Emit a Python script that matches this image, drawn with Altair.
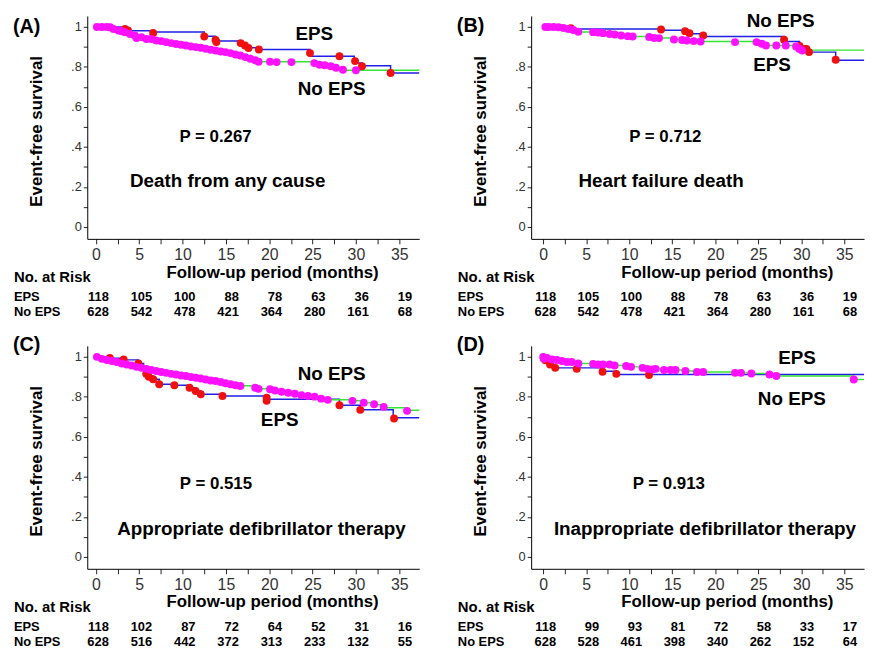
import altair as alt
import pandas as pd

FONT = "Liberation Sans"
NARROW = "Liberation Sans Narrow, Liberation Sans"
BLUE = "#1f1fe6"
GREEN = "#33e633"
RED = "#f01010"
MAGENTA = "#ff10ff"

TICKS = [0, 5, 10, 15, 20, 25, 30, 35]

# ---------------- Panel A: Death from any cause ----------------
A_eps_t = [0, 3.4, 6.6, 12.5, 13.8, 16.6, 17.2, 17.6, 18.8, 24.7, 29.8, 30.7, 34.0, 37.3]
A_eps_s = [1.0, 0.981, 0.975, 0.953, 0.930, 0.918, 0.907, 0.896, 0.887, 0.853, 0.819, 0.806, 0.770, 0.770]
A_no_t = [0, 1.6, 2.6, 3.4, 4.5, 5.3, 6.4, 7.5, 8.7, 9.8, 11.0, 12.1, 13.2, 14.4, 15.5, 16.7, 17.8, 18.8, 25.2, 26.4, 27.7, 28.5, 37.3]
A_no_s = [1.0, 0.995, 0.982, 0.974, 0.957, 0.947, 0.940, 0.929, 0.919, 0.911, 0.902, 0.896, 0.886, 0.877, 0.869, 0.857, 0.841, 0.826, 0.817, 0.806, 0.796, 0.783, 0.783]
A_eps_pt_t = [3.35, 3.7, 6.6, 12.5, 13.8, 13.9, 16.7, 17.2, 17.6, 18.8, 24.7, 28.1, 29.9, 30.7, 34.0]
A_eps_pt_s = [0.990, 0.982, 0.970, 0.952, 0.935, 0.925, 0.919, 0.907, 0.895, 0.887, 0.869, 0.853, 0.829, 0.803, 0.770]
A_no_pt_t = [0.11, 0.68, 1.26, 1.64, 2.02, 2.59, 2.97, 3.35, 3.92, 4.49, 4.68, 5.25, 5.82, 6.39, 6.96, 7.53, 8.10,
             8.68, 9.25, 9.82, 10.39, 10.96, 11.53, 12.10, 12.67, 13.24, 13.81, 14.38, 14.95, 15.53, 16.10, 16.67,
             17.24, 17.81, 18.38, 18.76, 20.09, 20.85, 22.56, 25.2, 25.8, 26.4, 27.1, 27.7, 28.5, 30.0]
A_no_pt_s = [1.0, 1.0, 1.0, 0.998, 0.990, 0.982, 0.979, 0.974, 0.965, 0.957, 0.945, 0.949, 0.940, 0.940, 0.932, 0.929,
             0.924, 0.919, 0.915, 0.911, 0.907, 0.902, 0.899, 0.896, 0.891, 0.886, 0.882, 0.877, 0.874, 0.869, 0.862,
             0.857, 0.849, 0.841, 0.833, 0.826, 0.826, 0.824, 0.824, 0.819, 0.811, 0.808, 0.803, 0.796, 0.786, 0.783]
A_risk_eps = [118, 105, 100, 88, 78, 63, 36, 19]
A_risk_no = [628, 542, 478, 421, 364, 280, 161, 68]

# ---------------- Panel B: Heart failure death ----------------
B_eps_t = [0, 3.3, 13.6, 16.5, 17.0, 18.6, 28.0, 29.8, 30.5, 30.9, 34.0, 37.3]
B_eps_s = [1.0, 0.990, 0.983, 0.974, 0.966, 0.952, 0.927, 0.905, 0.890, 0.874, 0.833, 0.833]
B_no_t = [0, 1.5, 2.9, 3.5, 4.1, 6.4, 7.7, 9.1, 10.4, 12.9, 15.2, 16.7, 18.3, 24.8, 25.4, 25.9, 29.4, 29.8, 30.1, 37.3]
B_no_s = [1.0, 0.998, 0.990, 0.985, 0.975, 0.972, 0.965, 0.957, 0.952, 0.945, 0.937, 0.932, 0.927, 0.924, 0.916, 0.907, 0.902, 0.891, 0.884, 0.884]
B_eps_pt_t = [3.2, 13.7, 16.5, 17.0, 18.6, 28.0, 29.8, 30.6, 30.9, 34.0]
B_eps_pt_s = [0.993, 0.987, 0.979, 0.969, 0.957, 0.936, 0.905, 0.890, 0.874, 0.836]
B_no_pt_t = [0.25, 0.63, 1.21, 1.78, 2.36, 2.93, 3.5, 4.08, 5.80, 6.38, 6.95, 7.72, 8.3, 9.06, 9.83, 10.4, 12.32,
             12.9, 13.47, 15.2, 16.15, 16.7, 17.5, 18.3, 22.3, 24.8, 25.4, 25.9, 27.1, 28.2, 29.4, 29.75, 30.1]
B_no_pt_s = [1.0, 1.0, 1.0, 0.998, 0.995, 0.990, 0.985, 0.976, 0.974, 0.972, 0.969, 0.965, 0.962, 0.957, 0.954, 0.952,
             0.950, 0.945, 0.944, 0.937, 0.935, 0.932, 0.929, 0.927, 0.924, 0.924, 0.916, 0.907, 0.907, 0.907, 0.902,
             0.891, 0.882]
B_risk_eps = [118, 105, 100, 88, 78, 63, 36, 19]
B_risk_no = [628, 542, 478, 421, 364, 280, 161, 68]

# ---------------- Panel C: Appropriate defibrillator therapy ----------------
C_eps_t = [0, 1.6, 3.2, 4.9, 5.5, 6.0, 6.6, 7.3, 9.0, 10.8, 11.5, 12.1, 14.6, 19.7, 28.1, 30.5, 34.3, 37.3]
C_eps_s = [1.0, 0.993, 0.985, 0.967, 0.930, 0.904, 0.888, 0.863, 0.858, 0.846, 0.829, 0.813, 0.804, 0.788, 0.758, 0.735, 0.695, 0.695]
C_no_t = [0, 0.7, 1.8, 3.0, 4.1, 5.3, 6.4, 7.5, 8.7, 9.8, 11.0, 12.1, 13.2, 14.4, 15.5, 16.7, 18.4, 18.8, 20.7, 21.4,
          22.2, 23.0, 23.7, 25.2, 26.0, 26.8, 29.6, 30.9, 32.1, 33.2, 35.9, 37.3]
C_no_s = [1.0, 0.993, 0.982, 0.970, 0.957, 0.947, 0.936, 0.926, 0.916, 0.908, 0.900, 0.893, 0.884, 0.876, 0.866, 0.856,
          0.848, 0.840, 0.834, 0.827, 0.822, 0.816, 0.808, 0.802, 0.792, 0.785, 0.780, 0.770, 0.760, 0.745, 0.733, 0.733]
C_eps_pt_t = [1.6, 3.2, 4.9, 5.8, 6.1, 6.6, 7.3, 9.05, 10.8, 11.5, 12.1, 14.6, 19.7, 19.7, 28.1, 30.5, 34.4]
C_eps_pt_s = [0.995, 0.987, 0.967, 0.915, 0.900, 0.888, 0.863, 0.858, 0.846, 0.829, 0.813, 0.804, 0.796, 0.780, 0.758, 0.735, 0.692]
C_no_pt_t = [0.11, 0.68, 1.26, 1.83, 2.40, 2.97, 3.54, 4.11, 4.68, 5.25, 5.82, 6.39, 6.96, 7.53, 8.10, 8.68, 9.25,
             9.82, 10.39, 10.96, 11.53, 12.10, 12.67, 13.24, 13.81, 14.38, 14.95, 15.53, 16.10, 16.67, 18.38, 18.76,
             20.09, 20.66, 21.42, 22.18, 22.95, 23.71, 24.47, 25.23, 25.99, 26.75, 29.6, 30.9, 32.1, 33.2, 35.9]
C_no_pt_s = [1.0, 0.990, 0.984, 0.979, 0.974, 0.967, 0.962, 0.957, 0.950, 0.945, 0.940, 0.934, 0.929, 0.924, 0.920,
             0.915, 0.912, 0.907, 0.904, 0.899, 0.896, 0.892, 0.887, 0.882, 0.879, 0.874, 0.868, 0.863, 0.858, 0.854,
             0.846, 0.840, 0.838, 0.832, 0.826, 0.821, 0.816, 0.808, 0.804, 0.801, 0.791, 0.785, 0.780, 0.771, 0.763,
             0.750, 0.730]
C_risk_eps = [118, 102, 87, 72, 64, 52, 31, 16]
C_risk_no = [628, 516, 442, 372, 313, 233, 132, 55]

# ---------------- Panel D: Inappropriate defibrillator therapy ----------------
D_eps_t = [0, 0.25, 0.8, 1.4, 6.9, 8.5, 37.3]
D_eps_s = [1.0, 0.979, 0.962, 0.945, 0.928, 0.912, 0.912]
D_no_t = [0, 0.5, 1.0, 2.2, 2.7, 4.1, 6.4, 8.3, 9.6, 10.2, 11.6, 12.1, 14.0, 16.5, 17.9, 22.3, 24.2, 26.3, 27.1, 36.1, 37.3]
D_no_s = [1.0, 0.993, 0.987, 0.979, 0.974, 0.967, 0.962, 0.957, 0.954, 0.950, 0.945, 0.940, 0.934, 0.929, 0.924,
          0.920, 0.917, 0.912, 0.904, 0.887, 0.887]
D_eps_pt_t = [0.25, 0.8, 1.4, 3.9, 6.9, 8.5, 12.3]
D_eps_pt_s = [0.983, 0.962, 0.945, 0.940, 0.926, 0.915, 0.909]
D_no_pt_t = [0.0, 0.06, 0.44, 1.02, 1.59, 2.16, 2.74, 3.31, 4.08, 5.80, 6.38, 6.95, 7.72, 8.30, 9.64, 10.21, 11.55,
             12.13, 12.7, 13.08, 14.04, 14.8, 15.38, 16.53, 17.87, 18.6, 22.3, 23.0, 24.2, 26.3, 27.1, 36.1]
D_no_pt_s = [1.0, 0.990, 0.995, 0.987, 0.984, 0.979, 0.974, 0.974, 0.967, 0.965, 0.962, 0.962, 0.962, 0.957, 0.954,
             0.950, 0.945, 0.940, 0.937, 0.940, 0.934, 0.934, 0.934, 0.929, 0.924, 0.924, 0.920, 0.920, 0.917, 0.912,
             0.904, 0.887]
D_risk_eps = [118, 99, 93, 81, 72, 58, 33, 17]
D_risk_no = [628, 528, 461, 398, 340, 262, 152, 64]


def panel(letter, letter_y, xmin, width, title_x,
          eps_t, eps_s, no_t, no_s, ept, eps_pts, npt, nps,
          risk_eps, risk_no, notes):
    H = 225
    xs = alt.Scale(domain=[xmin, 37.3], nice=False, zero=False)
    ys = alt.Scale(domain=[-0.06, 1.055], nice=False, zero=False)
    xaxis = alt.Axis(
        values=[i * 2.5 for i in range(15)],
        labelExpr="datum.value % 5 == 0 ? datum.label : ''",
        title=None, grid=False, domainColor="#000", domainWidth=1,
        tickColor="#222", tickSize=5, tickWidth=1,
        labelFont=NARROW, labelFontSize=16, labelColor="#333",
        labelPadding=3, labelFlush=False, labelOverlap=False)
    yaxis = alt.Axis(
        values=[round(i * 0.1, 1) for i in range(11)],
        labelExpr="round(datum.value*10) % 2 == 0 ? (datum.value == 0 ? '0' : (datum.value > 0.99 ? '1' : replace(format(datum.value, '.1f'), '0.', '.'))) : ''",
        title="Event-free survival", titleFont=FONT, titleFontSize=17,
        titleFontWeight="bold", titleColor="#000", titleX=-51, titleY=116,
        titleAngle=270, titleAlign="center", titleBaseline="middle",
        grid=False, domainColor="#000", domainWidth=1, tickColor="#222",
        tickSize=4, tickWidth=1, labelFont=NARROW, labelFontSize=13,
        labelColor="#333", labelPadding=2, labelOverlap=False, labelFlush=False)

    def X(f):
        return alt.X(f, type="quantitative", scale=xs, axis=xaxis)

    def Y(f):
        return alt.Y(f, type="quantitative", scale=ys, axis=yaxis)

    eps_line = alt.Chart(pd.DataFrame({"t": eps_t, "s": eps_s})).mark_line(
        interpolate="step-after", color=BLUE, strokeWidth=1.5).encode(x=X("t"), y=Y("s"))
    no_line = alt.Chart(pd.DataFrame({"t": no_t, "s": no_s})).mark_line(
        interpolate="step-after", color=GREEN, strokeWidth=1.5).encode(x=X("t"), y=Y("s"))
    eps_pts = alt.Chart(pd.DataFrame({"t": ept, "s": eps_pts})).mark_circle(
        color=RED, size=64, opacity=1).encode(x=X("t"), y=Y("s"))
    no_pts = alt.Chart(pd.DataFrame({"t": npt, "s": nps})).mark_circle(
        color=MAGENTA, size=64, opacity=1).encode(x=X("t"), y=Y("s"))

    note_layers = []
    for txt, nx, ny, fs in notes:
        note_layers.append(
            alt.Chart(pd.DataFrame({"t": [nx], "s": [ny], "lab": [txt]})).mark_text(
                font=FONT, fontSize=fs, fontWeight="bold", color="#000",
                align="center", baseline="middle").encode(x=X("t"), y=Y("s"), text="lab:N"))

    risk_layers = []
    for counts, ypix in ((risk_eps, 284), (risk_no, 298.5)):
        risk_layers.append(
            alt.Chart(pd.DataFrame({"t": TICKS, "n": [str(c) for c in counts]})).mark_text(
                font=FONT, fontSize=13, fontWeight="bold", color="#000",
                align="right", baseline="middle", dx=13).encode(
                x=X("t"), y=alt.value(ypix), text="n:N"))

    def label(txt, xp, yp, fs, align="left"):
        return alt.Chart(pd.DataFrame({"lab": [txt]})).mark_text(
            font=FONT, fontSize=fs, fontWeight="bold", color="#000",
            align=align, baseline="middle").encode(
            x=alt.value(xp), y=alt.value(yp), text="lab:N")

    side = [
        label(letter, -75, letter_y, 20),
        label("No. at Risk", -74, 264, 15),
        label("EPS", -74, 284, 13),
        label("No EPS", -74, 298.5, 13),
        label("Follow-up period (months)", title_x, 259, 17, align="center"),
    ]

    return alt.layer(eps_line, no_line, eps_pts, no_pts, *note_layers,
                     *risk_layers, *side).properties(width=width, height=H)


pA = panel("(A)", 11, -1.0, 335, 187,
           A_eps_t, A_eps_s, A_no_t, A_no_s, A_eps_pt_t, A_eps_pt_s, A_no_pt_t, A_no_pt_s,
           A_risk_eps, A_risk_no,
           [("EPS", 25.2, 0.964, 19), ("No EPS", 27.2, 0.69, 19),
            ("P = 0.267", 13.8, 0.451, 17), ("Death from any cause", 15.2, 0.227, 19)])
pB = panel("(B)", 10, -1.4, 336, 198,
           B_eps_t, B_eps_s, B_no_t, B_no_s, B_eps_pt_t, B_eps_pt_s, B_no_pt_t, B_no_pt_s,
           B_risk_eps, B_risk_no,
           [("No EPS", 27.6, 1.028, 19), ("EPS", 26.6, 0.808, 19),
            ("P = 0.712", 14.2, 0.451, 17), ("Heart failure death", 13.7, 0.231, 19)])
pC = panel("(C)", -0.5, -1.0, 335, 187,
           C_eps_t, C_eps_s, C_no_t, C_no_s, C_eps_pt_t, C_eps_pt_s, C_no_pt_t, C_no_pt_s,
           C_risk_eps, C_risk_no,
           [("No EPS", 27.2, 0.912, 19), ("EPS", 21.2, 0.683, 19),
            ("P = 0.515", 13.85, 0.362, 17), ("Appropriate defibrillator therapy", 19.1, 0.141, 19)])
pD = panel("(D)", -0.5, -1.4, 336, 198,
           D_eps_t, D_eps_s, D_no_t, D_no_s, D_eps_pt_t, D_eps_pt_s, D_no_pt_t, D_no_pt_s,
           D_risk_eps, D_risk_no,
           [("EPS", 29.5, 0.995, 19), ("No EPS", 28.9, 0.791, 19),
            ("P = 0.913", 14.6, 0.362, 17), ("Inappropriate defibrillator therapy", 18.8, 0.141, 19)])

chart = alt.vconcat(
    alt.hconcat(pA, pB, spacing=35),
    alt.hconcat(pC, pD, spacing=35),
    spacing=16,
).properties(
    padding={"left": 5, "top": 1, "right": 5, "bottom": 5},
    background="#ffffff",
).configure_view(stroke=None)

chart.save("out.html", embed_options={"renderer": "svg", "actions": False})
